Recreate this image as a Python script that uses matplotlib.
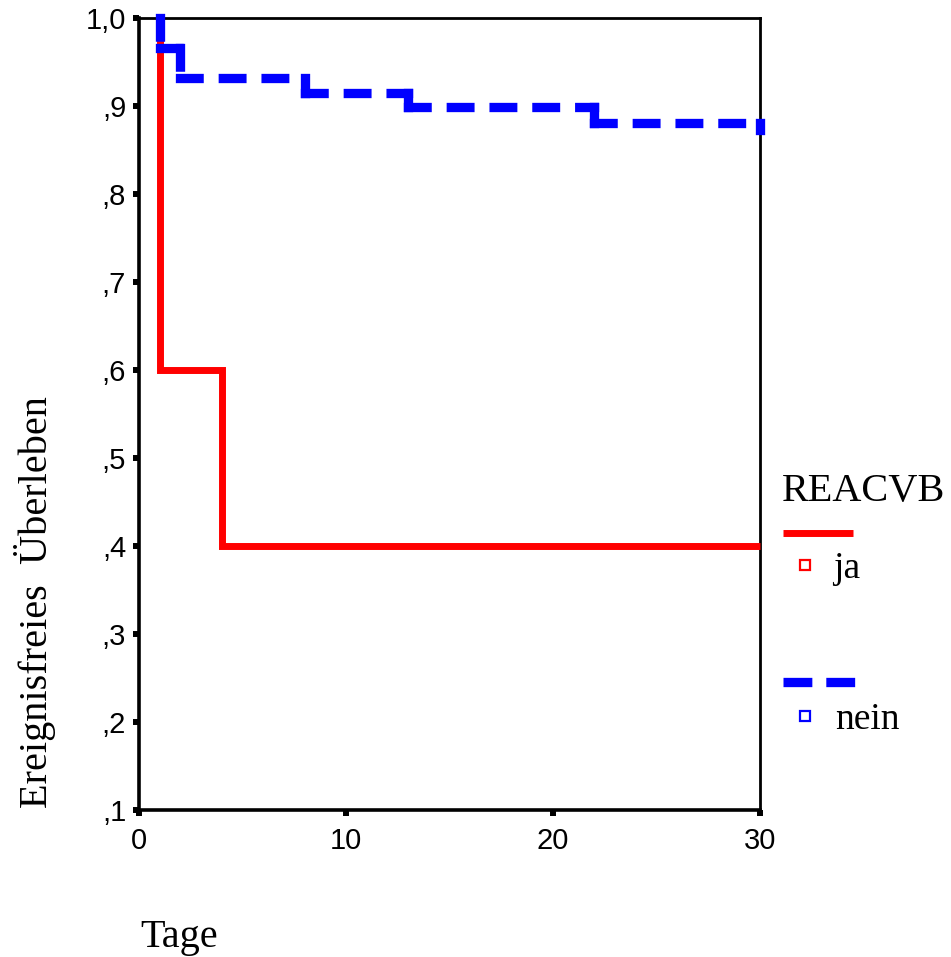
import matplotlib.pyplot as plt
from matplotlib.lines import Line2D
from matplotlib.ticker import FixedLocator, FuncFormatter

### Data ###
# event times (days) and survival levels after each step
ja_times = [1, 4]
ja_surv = [0.6, 0.4]
nein_times = [1, 2, 8, 13, 22, 30]
nein_surv = [0.966, 0.932, 0.915, 0.899, 0.881, 0.873]
t_end = 30
y_ticks = [0.1, 0.2, 0.3, 0.4, 0.5, 0.6, 0.7, 0.8, 0.9, 1.0]
x_ticks = [0, 10, 20, 30]
groups = ['ja', 'nein']
colors = {'ja': '#ff0000', 'nein': '#0000ff'}


def step_xy(times, surv, end):
    # right-continuous step curve starting at 1.0 at the first event time
    xs = [times[0]]
    ys = [1.0]
    level = 1.0
    for t, s in zip(times, surv):
        xs += [t, t]
        ys += [level, s]
        level = s
    if xs[-1] < end:
        xs.append(end)
        ys.append(level)
    return xs, ys


fig = plt.figure(figsize=(9.51, 9.57), dpi=100)
ax = fig.add_axes([139 / 951, 1 - 810 / 957, 621 / 951, 792 / 957])

xr, yr = step_xy(ja_times, ja_surv, t_end)
ax.plot(xr, yr, color=colors['ja'], lw=5.0, solid_joinstyle='miter',
        solid_capstyle='butt', clip_on=False, zorder=3)

# SPSS restarts the dash pattern on every segment of the step line
xb, yb = step_xy(nein_times, nein_surv, t_end)
for i in range(len(xb) - 1):
    ax.plot(xb[i:i + 2], yb[i:i + 2], color=colors['nein'], lw=6.7,
            ls=(0, (2.0, 2.6)), dash_capstyle='projecting',
            solid_capstyle='projecting', clip_on=False, zorder=4)

ax.set_xlim(0, 30)
ax.set_ylim(0.1, 1.0)
ax.xaxis.set_major_locator(FixedLocator(x_ticks))
ax.yaxis.set_major_locator(FixedLocator(y_ticks))
ax.yaxis.set_major_formatter(FuncFormatter(
    lambda v, p: ('%.1f' % v).replace('0.', ',').replace('.', ',')))
ax.tick_params(direction='out', length=4.3, width=4.3, color='black',
               labelsize=21)
ax.tick_params(axis='x', pad=8)
ax.tick_params(axis='y', pad=5)
for lab in ax.get_xticklabels() + ax.get_yticklabels():
    lab.set_family('Liberation Sans')
for side in ['top', 'right']:
    ax.spines[side].set_linewidth(2.0)
for side in ['left', 'bottom']:
    ax.spines[side].set_linewidth(2.6)

serif = 'Liberation Serif'
fig.text(35 / 951, 1 - 602 / 957, 'Ereignisfreies  Überleben', rotation=90,
         ha='center', va='center', fontsize=29, family=serif)
fig.text(140 / 951, 1 - 947 / 957, 'Tage', ha='left', va='baseline',
         fontsize=29, family=serif)

# legend drawn by hand, SPSS style
fig.text(782 / 951, 1 - 501 / 957, 'REACVB', ha='left', va='baseline',
         fontsize=29, family=serif)
legend_rows = {'ja': (533, 565, 578), 'nein': (682, 716, 729)}
for g in groups:
    ly, my, ty = legend_rows[g]
    if g == 'ja':
        fig.add_artist(Line2D([783 / 951, 853 / 951], [1 - ly / 957] * 2,
                              color=colors[g], lw=5.0, solid_capstyle='butt'))
    else:
        fig.add_artist(Line2D([783 / 951, 855 / 951], [1 - ly / 957] * 2,
                              color=colors[g], lw=6.7, ls=(0, (3.1, 1.5)),
                              dash_capstyle='butt'))
    fig.add_artist(Line2D([805 / 951], [1 - my / 957], marker='s',
                          markersize=7.5, markerfacecolor='white',
                          markeredgecolor=colors[g], markeredgewidth=1.6,
                          ls='none'))
    fig.text((833 if g == 'ja' else 835) / 951, 1 - ty / 957, g,
             ha='left', va='baseline', fontsize=27, family=serif)

fig.savefig('out.png', dpi=100)
